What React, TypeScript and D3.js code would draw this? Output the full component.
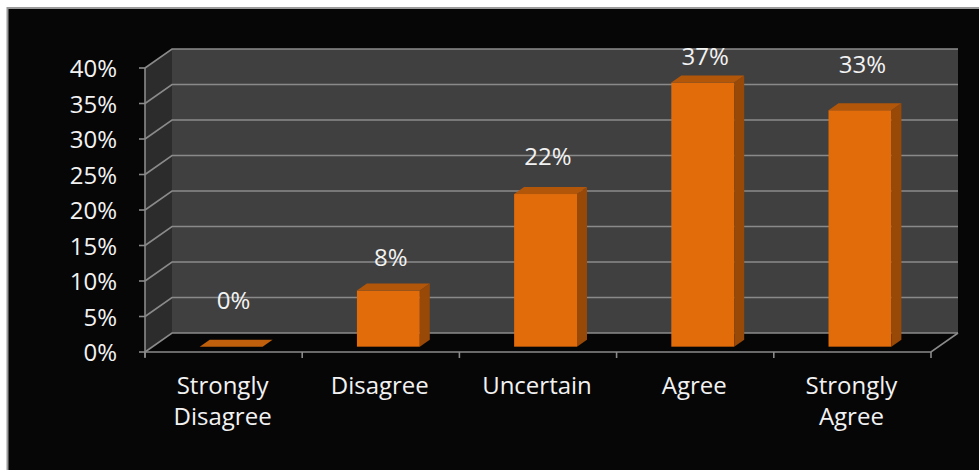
import React from "react";
import * as d3 from "d3";

const categories: string[][] = [
  ["Strongly", "Disagree"],
  ["Disagree"],
  ["Uncertain"],
  ["Agree"],
  ["Strongly", "Agree"],
];
const values: number[] = [0, 7.9, 21.5, 37.2, 33.3];
const yTicks: number[] = [0, 5, 10, 15, 20, 25, 30, 35, 40];
const labelLift: number[] = [43, 30, 34, 23, 43];

const W = 979;
const H = 470;
const DX = 27;
const DY = 19;
const D0 = 0.28;
const D1 = 0.65;
const FONT = "'Open Sans', 'Noto Sans', sans-serif";

export default function App() {
  const keys = categories.map((c) => c.join(" "));
  const x = d3.scaleBand<string>().domain(keys).range([145, 931]).padding(0);
  const y = d3.scaleLinear().domain([0, 40]).range([352, 68]);
  const bw = x.bandwidth() * 0.4;
  const x0 = x.range()[0];
  const x1 = x.range()[1];
  const yTop = y(40);
  const yBot = y(0);
  const grid = "#8a8a8a";

  const poly = (pts: [number, number][]) => pts.map((p) => p.join(",")).join(" ");

  return (
    <svg
      width={W}
      height={H}
      style={{ position: "absolute", left: 0, top: 0, background: "#fff" }}
    >
      <rect x={7.5} y={8} width={W} height={H} fill="#060606" stroke="#9a9a9a" strokeWidth={2} />
      {/* side wall */}
      <polygon
        points={poly([
          [x0, yTop],
          [x0 + DX, yTop - DY],
          [x0 + DX, yBot - DY],
          [x0, yBot],
        ])}
        fill="#2c2c2c"
      />
      {/* back wall */}
      <rect x={x0 + DX} y={yTop - DY} width={x1 - x0} height={yBot - yTop} fill="#404040" />
      {/* gridlines */}
      {yTicks.map((t) => (
        <polyline
          key={t}
          points={poly([
            [x0, y(t)],
            [x0 + DX, y(t) - DY],
            [x1 + DX, y(t) - DY],
          ])}
          fill="none"
          stroke={grid}
          strokeWidth={1.6}
        />
      ))}
      {/* floor front edge */}
      <polyline
        points={poly([
          [x0, yBot],
          [x1, yBot],
          [x1 + DX, yBot - DY],
        ])}
        fill="none"
        stroke={grid}
        strokeWidth={1.6}
      />
      {/* y axis */}
      <line x1={x0} x2={x0} y1={yTop} y2={yBot + 5} stroke={grid} strokeWidth={1.6} />
      {yTicks.map((t) => (
        <g key={"t" + t}>
          <line x1={x0 - 6} x2={x0} y1={y(t)} y2={y(t)} stroke={grid} strokeWidth={1.6} />
          <text
            x={117}
            y={y(t) + 9}
            textAnchor="end"
            fill="#f2f2f2"
            fontFamily={FONT}
            fontSize={24}
          >
            {t}%
          </text>
        </g>
      ))}
      {/* category ticks */}
      {keys.concat(["end"]).map((k, i) => {
        const xx = i < keys.length ? (x(k) as number) : x1;
        return <line key={"c" + i} x1={xx} x2={xx} y1={yBot} y2={yBot + 6} stroke={grid} strokeWidth={1.6} />;
      })}
      {/* bars */}
      {values.map((v, i) => {
        const bx = (x(keys[i]) as number) + (x.bandwidth() - bw) / 2;
        const fx = bx + DX * D0;
        const fyb = y(0) - DY * D0;
        const fyt = y(v) - DY * D0;
        const ddx = DX * (D1 - D0);
        const ddy = DY * (D1 - D0);
        return (
          <g key={"b" + i}>
            {v > 0 && (
              <rect x={fx} y={fyt} width={bw} height={fyb - fyt} fill="#e36c0a" />
            )}
            <polygon
              points={poly([
                [fx + bw, fyt],
                [fx + bw + ddx, fyt - ddy],
                [fx + bw + ddx, fyb - ddy],
                [fx + bw, fyb],
              ])}
              fill="#984807"
            />
            <polygon
              points={poly([
                [fx, fyt],
                [fx + ddx, fyt - ddy],
                [fx + bw + ddx, fyt - ddy],
                [fx + bw, fyt],
              ])}
              fill={v > 0 ? "#b2560a" : "#c0600c"}
            />
          </g>
        );
      })}
      {/* data labels */}
      {values.map((v, i) => (
        <text
          key={"l" + i}
          x={(x(keys[i]) as number) + x.bandwidth() / 2 + 10}
          y={y(v) - labelLift[i]}
          textAnchor="middle"
          fill="#f2f2f2"
          fontFamily={FONT}
          fontSize={24}
        >
          {Math.round(v)}%
        </text>
      ))}
      {/* category labels */}
      {categories.map((lines, i) => (
        <text
          key={"k" + i}
          x={(x(keys[i]) as number) + x.bandwidth() / 2 - 1}
          y={394}
          textAnchor="middle"
          fill="#f2f2f2"
          fontFamily={FONT}
          fontSize={24}
        >
          {lines.map((ln, j) => (
            <tspan key={j} x={(x(keys[i]) as number) + x.bandwidth() / 2 - 1} dy={j === 0 ? 0 : 31}>
              {ln}
            </tspan>
          ))}
        </text>
      ))}
    </svg>
  );
}
